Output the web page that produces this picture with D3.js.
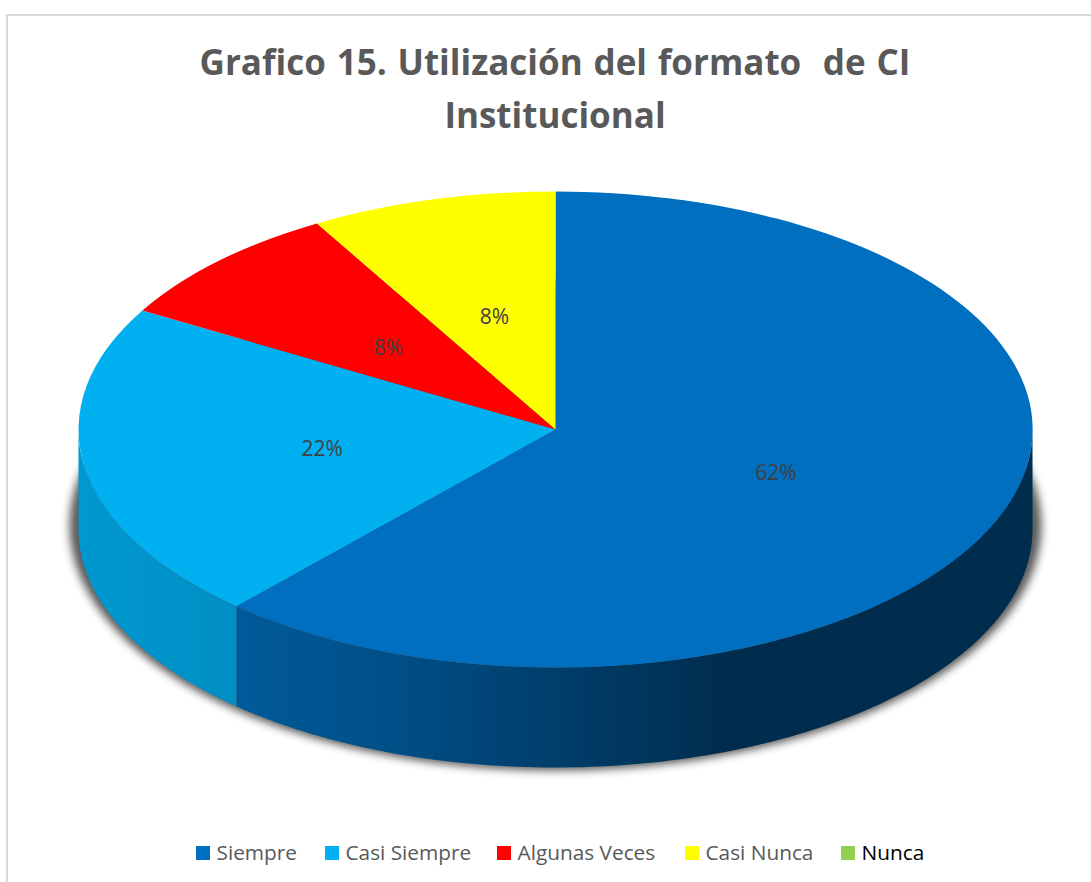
<!DOCTYPE html>
<html><head><meta charset="utf-8">
<script src="https://cdn.jsdelivr.net/npm/d3@7"></script>
<style>html,body{margin:0;padding:0;background:#fff;overflow:hidden}svg{display:block}text{font-family:"Open Sans",sans-serif}</style>
</head><body><svg id="c" width="1091" height="882"></svg>
<script>
const categories = ["Siempre","Casi Siempre","Algunas Veces","Casi Nunca","Nunca"];
const counts = [37,13,5,5,0];
const colors = ["#006fc0","#00b0f0","#ff0000","#ffff00","#92d050"];
const titleLines = ["Grafico 15. Utilización del formato  de CI","Institucional"];
const legendX = [196,325,497,685,841];
const legendTextColors = ["#595959","#595959","#595959","#595959","#000000"];

const W=1091,H=882,cx=555.5,cy=429.5,rx=477,ry=238,depth=100;
const svg=d3.select("#c");
const defs=svg.append("defs");
defs.append("filter").attr("id","blur").attr("x","-5%").attr("y","-5%").attr("width","110%").attr("height","110%")
  .append("feGaussianBlur").attr("stdDeviation",4.5);
const gBlue=defs.append("linearGradient").attr("id","sideBlue").attr("gradientUnits","userSpaceOnUse")
  .attr("x1",236).attr("x2",1032).attr("y1",0).attr("y2",0);
[[0,"#005a9a"],[0.2,"#004f87"],[0.4,"#003e6b"],[0.62,"#002d4e"],[1,"#002d4e"]].forEach(s=>gBlue.append("stop").attr("offset",s[0]).attr("stop-color",s[1]));
const gCyan=defs.append("linearGradient").attr("id","sideCyan").attr("gradientUnits","userSpaceOnUse")
  .attr("x1",78).attr("x2",236).attr("y1",0).attr("y2",0);
[[0,"#0098d0"],[1,"#008fc4"]].forEach(s=>gCyan.append("stop").attr("offset",s[0]).attr("stop-color",s[1]));

// chart frame
svg.append("path").attr("d",`M7,${H} V15 H${W}`).attr("fill","none").attr("stroke","#d9d9d9").attr("stroke-width",2);

// title
svg.append("g").selectAll("text").data(titleLines).join("text")
  .attr("x",555).attr("y",(d,i)=>75+i*53).attr("text-anchor","middle")
  .attr("font-size",35).attr("font-weight",700).attr("fill","#595959").style("white-space","pre").style("word-spacing","1.7px").text(d=>d);

const total=d3.sum(counts);
const pie=d3.pie().sort(null)(counts);
const sx=d3.scaleLinear().domain([-1,1]).range([cx-rx,cx+rx]);
const sy=d3.scaleLinear().domain([-1,1]).range([cy-ry,cy+ry]);

// drop shadow
svg.append("ellipse").attr("cx",cx).attr("cy",cy+96).attr("rx",rx+9).attr("ry",ry+7)
  .attr("fill","#303030").attr("opacity",.8).attr("filter","url(#blur)");

// side walls for the front half of the disc
const fills=["url(#sideBlue)","url(#sideCyan)"];
pie.forEach((p,i)=>{
  const a0=Math.max(p.startAngle,Math.PI/2),a1=Math.min(p.endAngle,3*Math.PI/2);
  if(a1<=a0) return;
  const as=d3.range(0,121).map(k=>a0+(a1-a0)*k/120);
  const top=as.map(a=>[sx(Math.sin(a)),sy(-Math.cos(a))]);
  const bot=top.slice().reverse().map(q=>[q[0],q[1]+depth]);
  svg.append("path").attr("d",d3.line()(top.concat(bot))+"Z").attr("fill",fills[i]||colors[i]);
});

// top face
const arc=d3.arc().innerRadius(0).outerRadius(1);
svg.append("g").attr("transform",`translate(${cx},${cy}) scale(${rx},${ry})`)
  .selectAll("path").data(pie).join("path").attr("d",arc).attr("fill",(d,i)=>colors[i]);

// data labels
const fmt=d3.format(".0%");
svg.append("g").selectAll("text").data(pie.filter(d=>d.value>0)).join("text")
  .attr("x",d=>{const m=(d.startAngle+d.endAngle)/2;return sx(0.495*Math.sin(m));})
  .attr("y",d=>{const m=(d.startAngle+d.endAngle)/2;return sy(-0.495*Math.cos(m))+8.5;})
  .attr("text-anchor","middle").attr("font-size",21).attr("fill","#404040")
  .text(d=>fmt(d.value/total));

// legend
const lg=svg.append("g").selectAll("g").data(categories).join("g").attr("transform",(d,i)=>`translate(${legendX[i]},846)`);
lg.append("rect").attr("width",14).attr("height",14).attr("y",0).attr("fill",(d,i)=>colors[i]);
lg.append("text").attr("x",20.5).attr("y",14).attr("font-size",20.8).attr("fill",(d,i)=>legendTextColors[i]).text(d=>d);
</script></body></html>
